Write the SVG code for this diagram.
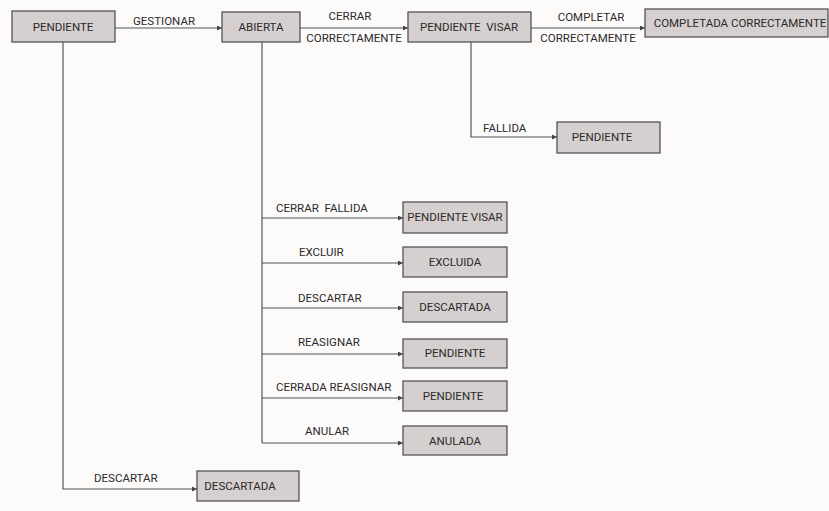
<svg xmlns="http://www.w3.org/2000/svg" width="829" height="511" viewBox="0 0 829 511">
  <defs>
    <marker id="arr" viewBox="0 0 6 6" refX="6" refY="3" markerWidth="5" markerHeight="5" orient="auto" markerUnits="userSpaceOnUse">
      <path d="M0,0 L6,3 L0,6 z" fill="#444"/>
    </marker>
    <style>
      .box { fill: #d6cfd0; stroke: #555; stroke-width: 1.3; }
      .lbl { font-family: Roboto, "Liberation Sans", sans-serif; font-size: 11.5px; fill: #2a2a2a; white-space: pre; }
      .mid { text-anchor: middle; }
      .edge { fill: none; stroke: #555; stroke-width: 1.2; }
    </style>
  </defs>
  <rect width="829" height="511" fill="#fdfafa"/>

  <!-- connectors -->
  <g id="connectors">
    <line class="edge" x1="115" y1="28" x2="222" y2="28" marker-end="url(#arr)"/>
    <text class="lbl" x="133" y="25">GESTIONAR</text>

    <line class="edge" x1="300" y1="28" x2="408" y2="28" marker-end="url(#arr)"/>
    <text class="lbl mid" x="350" y="20">CERRAR</text>
    <text class="lbl mid" x="354" y="42">CORRECTAMENTE</text>

    <line class="edge" x1="531" y1="28" x2="645" y2="28" marker-end="url(#arr)"/>
    <text class="lbl mid" x="591" y="21">COMPLETAR</text>
    <text class="lbl mid" x="588" y="42">CORRECTAMENTE</text>

    <polyline class="edge" points="471,42 471,137 557,137" marker-end="url(#arr)"/>
    <text class="lbl" x="483" y="132">FALLIDA</text>

    <polyline class="edge" points="63,42 63,489 197,489" marker-end="url(#arr)"/>
    <text class="lbl" x="94" y="482">DESCARTAR</text>

    <line class="edge" x1="262" y1="42" x2="262" y2="443"/>
    <line class="edge" x1="262" y1="218" x2="403" y2="218" marker-end="url(#arr)"/>
    <text class="lbl" x="276" y="212">CERRAR  FALLIDA</text>
    <line class="edge" x1="262" y1="263" x2="403" y2="263" marker-end="url(#arr)"/>
    <text class="lbl" x="299" y="256">EXCLUIR</text>
    <line class="edge" x1="262" y1="308" x2="403" y2="308" marker-end="url(#arr)"/>
    <text class="lbl" x="298" y="302">DESCARTAR</text>
    <line class="edge" x1="262" y1="354" x2="403" y2="354" marker-end="url(#arr)"/>
    <text class="lbl" x="298" y="346">REASIGNAR</text>
    <line class="edge" x1="262" y1="398" x2="403" y2="398" marker-end="url(#arr)"/>
    <text class="lbl" x="276" y="391">CERRADA REASIGNAR</text>
    <line class="edge" x1="262" y1="443" x2="403" y2="443" marker-end="url(#arr)"/>
    <text class="lbl" x="305" y="435">ANULAR</text>
  </g>

  <!-- nodes -->
  <g id="n-pendiente">
    <rect class="box" x="12" y="11" width="103" height="31"/>
    <text class="lbl mid" x="63" y="31">PENDIENTE</text>
  </g>
  <g id="n-abierta">
    <rect class="box" x="222" y="12" width="78" height="30"/>
    <text class="lbl mid" x="261" y="31">ABIERTA</text>
  </g>
  <g id="n-pendiente-visar">
    <rect class="box" x="408" y="12" width="123" height="30"/>
    <text class="lbl mid" x="469" y="31">PENDIENTE  VISAR</text>
  </g>
  <g id="n-completada">
    <rect class="box" x="645" y="9" width="183" height="28"/>
    <text class="lbl mid" x="740" y="27">COMPLETADA CORRECTAMENTE</text>
  </g>
  <g id="n-pendiente-fallida">
    <rect class="box" x="557" y="122" width="103" height="31"/>
    <text class="lbl mid" x="602" y="141">PENDIENTE</text>
  </g>
  <g id="n-pendiente-visar-2">
    <rect class="box" x="403" y="202" width="104" height="31"/>
    <text class="lbl mid" x="455" y="221">PENDIENTE VISAR</text>
  </g>
  <g id="n-excluida">
    <rect class="box" x="403" y="247" width="104" height="30"/>
    <text class="lbl mid" x="455" y="266">EXCLUIDA</text>
  </g>
  <g id="n-descartada">
    <rect class="box" x="403" y="292" width="104" height="30"/>
    <text class="lbl mid" x="455" y="311">DESCARTADA</text>
  </g>
  <g id="n-pendiente-reasignar">
    <rect class="box" x="403" y="339" width="104" height="29"/>
    <text class="lbl mid" x="455" y="357">PENDIENTE</text>
  </g>
  <g id="n-pendiente-cerrada">
    <rect class="box" x="403" y="381" width="104" height="30"/>
    <text class="lbl mid" x="453" y="400">PENDIENTE</text>
  </g>
  <g id="n-anulada">
    <rect class="box" x="403" y="426" width="104" height="29"/>
    <text class="lbl mid" x="455" y="445">ANULADA</text>
  </g>
  <g id="n-descartada-2">
    <rect class="box" x="197" y="471" width="102" height="30"/>
    <text class="lbl mid" x="240" y="490">DESCARTADA</text>
  </g>
</svg>
